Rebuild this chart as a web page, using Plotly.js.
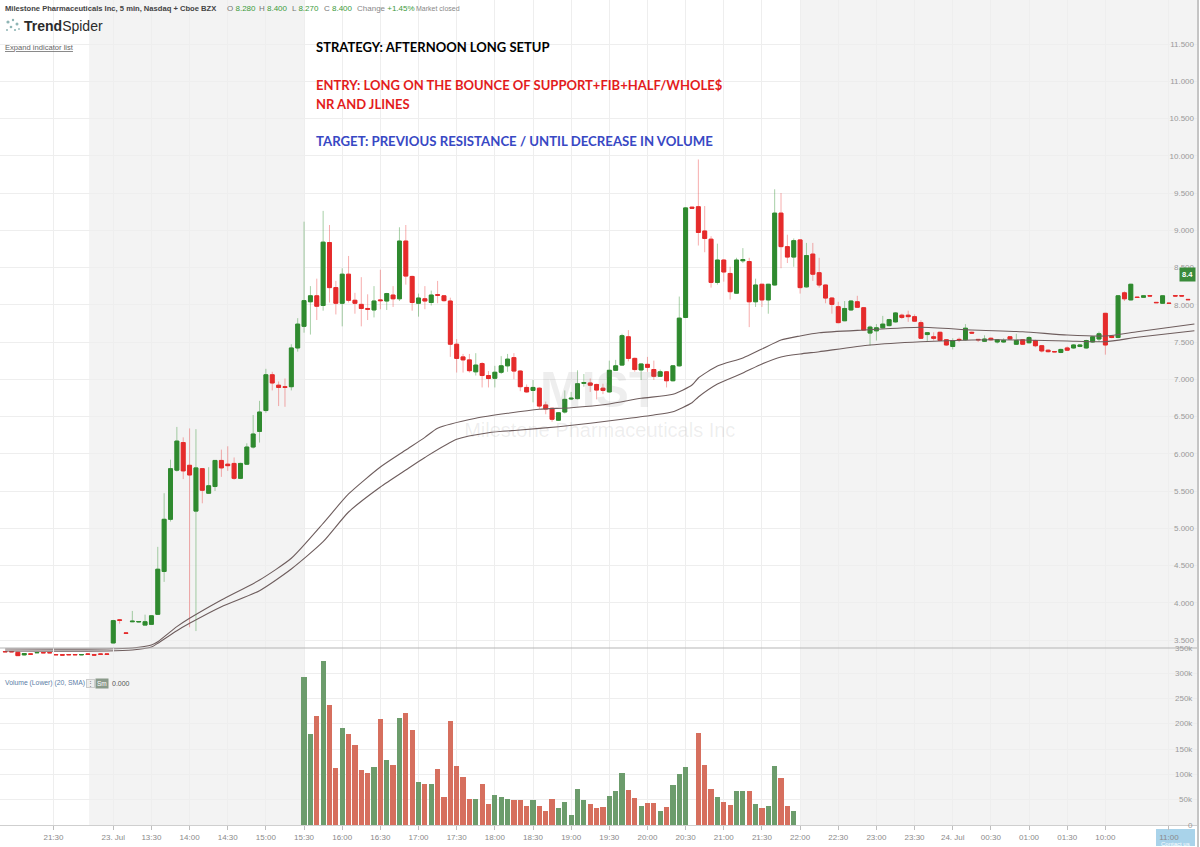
<!DOCTYPE html>
<html><head><meta charset="utf-8">
<script src="https://cdn.plot.ly/plotly-3.0.1.min.js"></script>
<style>html,body{margin:0;padding:0;background:#fff;}#chart{width:1200px;height:847px;}</style>
</head><body><div id="chart"></div>
<script>
// ---------------- DATA ----------------
const priceOpen = [3.345,3.345,3.335,3.30,3.313,3.328,3.332,3.332,3.305,3.302,3.305,3.305,3.30,3.312,3.302,3.312,3.312,
3.46,3.77,3.595,3.745,3.742,3.70,3.71,3.845,4.42,5.12,5.78,6.15,5.845,5.23,5.80,5.47,5.56,5.91,5.86,5.87,5.67,5.86,6.09,6.30,6.58,7.06,6.92,6.90,6.90,7.42,
7.71,8.04,8.12,7.99,8.835,8.23,8.02,8.41,8.06,8.005,7.95,7.93,8.065,8.05,8.13,8.08,8.855,8.38,8.02,8.08,8.03,8.135,8.12,8.05,7.47,7.30,7.26,7.10,
7.21,7.05,7.013,7.094,7.18,7.29,7.11,6.89,6.85,6.88,6.655,6.61,6.45,6.56,6.735,6.74,6.945,6.95,6.93,6.88,6.83,7.12,7.19,7.57,7.28,7.125,7.20,7.13,7.04,7.10,6.98,
7.18,7.83,9.31,9.316,8.99,8.88,8.30,8.60,8.42,8.155,8.59,8.58,8.04,8.275,8.065,8.265,9.23,8.78,8.64,8.87,8.24,8.68,8.43,8.265,8.09,7.974,7.785,7.93,8.04,
7.96,7.62,7.65,7.69,7.72,7.77,7.86,7.86,7.84,7.76,7.60,7.57,7.63,7.53,7.44,7.535,7.53,7.63,7.535,7.51,7.55,7.50,7.50,7.57,7.47,7.53,7.49,7.52,7.45,7.39,7.372,7.36,7.42,7.42,7.44,7.42,7.50,7.54,
7.885,7.58,7.56,8.16,8.065,8.102,8.10,8.122,8.032,8.02,8.022,8.122,8.122,8.072];
const priceHigh = [3.35,3.35,3.34,3.32,3.315,3.333,3.335,3.335,3.307,3.305,3.307,3.307,3.307,3.315,3.305,3.315,3.315,
3.77,3.78,3.60,3.89,3.75,3.84,3.83,4.75,5.47,5.92,6.36,6.22,6.34,6.33,5.80,5.82,5.91,6.055,6.10,5.95,5.88,6.14,6.52,6.71,7.14,7.10,6.97,7.01,7.47,7.82,
9.115,8.25,8.35,9.26,9.07,8.32,8.49,8.655,8.16,8.37,8.14,8.25,8.47,8.16,8.25,9.04,9.07,8.39,8.15,8.25,8.19,8.32,8.13,8.095,7.54,7.34,7.34,7.35,
7.23,7.11,7.18,7.31,7.34,7.35,7.12,6.93,6.99,6.89,6.70,6.62,6.56,6.85,6.83,7.12,7.07,7.01,6.94,6.94,7.25,7.26,7.61,7.66,7.29,7.21,7.30,7.25,7.13,7.11,7.19,
8.11,9.31,9.315,9.95,9.325,8.92,8.82,8.61,8.51,8.63,8.76,8.63,8.35,8.28,8.28,9.55,9.50,8.94,8.89,8.88,8.83,8.83,8.63,8.27,8.10,8.04,8.05,8.06,8.12,
7.97,7.72,7.74,7.85,7.81,7.90,7.88,7.92,7.87,7.79,7.63,7.63,7.64,7.54,7.55,7.56,7.74,7.64,7.54,7.59,7.56,7.54,7.55,7.58,7.61,7.54,7.58,7.53,7.46,7.40,7.375,7.41,7.44,7.47,7.47,7.53,7.58,7.64,
7.89,7.59,8.13,8.18,8.28,8.105,8.125,8.125,8.035,8.125,8.025,8.125,8.125,8.075];
const priceLow = [3.34,3.34,3.285,3.295,3.31,3.325,3.325,3.325,3.30,3.298,3.30,3.30,3.298,3.308,3.298,3.308,3.308,
3.46,3.72,3.585,3.74,3.74,3.70,3.705,3.84,4.28,5.09,5.76,5.66,3.67,3.62,5.335,5.46,5.50,5.69,5.77,5.65,5.66,5.85,6.07,6.15,6.55,6.85,6.64,6.63,6.85,7.37,
7.625,7.60,7.795,7.92,8.03,7.87,7.71,8.03,7.88,7.71,7.795,7.83,7.94,7.93,7.97,8.05,8.27,7.92,7.84,7.94,7.99,8.02,8.04,7.30,7.09,7.09,7.09,7.05,
6.89,6.89,6.89,7.07,7.10,7.0,6.84,6.82,6.69,6.60,6.53,6.43,6.44,6.54,6.72,6.73,6.90,6.83,6.73,6.80,6.82,7.11,7.18,7.24,7.10,6.99,7.10,6.99,7.03,6.89,6.97,
7.17,7.82,9.29,8.795,8.705,8.23,8.27,8.31,8.07,8.15,8.56,7.70,7.97,7.97,7.88,8.26,8.49,8.56,8.51,8.15,8.23,8.32,8.23,8.02,7.88,7.75,7.78,7.92,7.96,
7.65,7.45,7.52,7.68,7.71,7.76,7.81,7.77,7.77,7.54,7.50,7.52,7.51,7.45,7.40,7.50,7.52,7.61,7.50,7.50,7.52,7.48,7.49,7.53,7.46,7.46,7.48,7.43,7.36,7.36,7.365,7.35,7.38,7.41,7.43,7.41,7.49,7.50,
7.33,7.55,7.55,8.05,8.06,8.095,8.095,8.115,8.025,8.015,8.015,8.115,8.115,8.065];
const priceClose = [3.342,3.342,3.29,3.318,3.31,3.332,3.328,3.328,3.302,3.298,3.302,3.302,3.305,3.309,3.298,3.309,3.309,
3.76,3.765,3.59,3.752,3.748,3.745,3.825,4.45,5.12,5.80,6.17,5.77,5.715,5.81,5.51,5.57,5.91,5.81,5.84,5.67,5.87,6.09,6.265,6.56,7.06,6.95,6.89,6.89,7.42,7.74,
8.055,8.12,7.98,8.84,8.23,8.02,8.41,8.06,8.02,7.95,7.94,8.05,8.055,8.15,8.08,8.855,8.385,8.03,8.09,8.05,8.13,8.128,8.055,7.47,7.28,7.26,7.115,7.19,
7.05,7.01,7.094,7.18,7.27,7.11,6.90,6.83,6.89,6.64,6.60,6.463,6.55,6.73,6.745,6.94,6.955,6.92,6.855,6.85,7.12,7.18,7.585,7.28,7.13,7.205,7.16,7.04,7.10,6.98,7.18,
7.82,9.30,9.295,8.97,8.89,8.30,8.60,8.44,8.175,8.60,8.605,8.04,8.265,8.065,8.275,9.23,8.78,8.64,8.86,8.23,8.66,8.41,8.265,8.09,8.005,7.76,7.95,8.05,7.966,
7.66,7.70,7.69,7.74,7.80,7.89,7.83,7.84,7.78,7.55,7.625,7.55,7.52,7.46,7.52,7.53,7.685,7.62,7.53,7.54,7.53,7.53,7.52,7.54,7.52,7.47,7.56,7.45,7.38,7.37,7.368,7.40,7.39,7.46,7.46,7.52,7.57,7.61,
7.46,7.56,8.12,8.08,8.275,8.098,8.12,8.118,8.028,8.12,8.018,8.118,8.118,8.068];

// volume in thousands (regular-session bars; first bar = the 15:30 candle)
const volumeStart = 47;
const volumeK = [293,180,216,324,237,113,192,180,158,109,103,115,210,129,119,212,221,188,85,81,81,111,55,206,117,95,51,51,81,42,
59,55,51,49,49,38,49,38,28,51,34,46,20,71,49,42,34,36,57,67,103,69,53,38,44,44,28,36,79,101,115,0,182,119,71,55,46,40,67,67,67,42,34,38,117,93,38,28];

// moving-average band lines (candle index, price)
const upperIdx = [0,16,20,23,24,27,29,34,40,45,50,54,59,63,66,68,74,79,84,89,95,100,105,108,109,112,116,119,122,125,128,135,144,152,160,167,173,178,187];
const upperVal = [3.379,3.379,3.393,3.433,3.477,3.679,3.791,4.037,4.305,4.597,5.066,5.460,5.822,6.050,6.22,6.342,6.476,6.543,6.597,6.618,6.668,6.744,6.798,6.923,7.017,7.178,7.285,7.406,7.527,7.581,7.625,7.661,7.698,7.661,7.638,7.594,7.581,7.638,7.741];
const lowerIdx = [0,16,20,23,24,27,29,34,40,45,50,54,59,63,66,71,76,81,87,92,97,102,105,108,109,112,116,119,122,125,128,136,144,152,160,167,173,178,187];
const lowerVal = [3.352,3.352,3.366,3.406,3.456,3.625,3.724,3.947,4.162,4.453,4.819,5.218,5.554,5.782,5.95,6.194,6.283,6.319,6.363,6.409,6.463,6.520,6.565,6.685,6.762,6.936,7.084,7.205,7.299,7.339,7.370,7.460,7.504,7.527,7.527,7.513,7.504,7.563,7.652];

// x tick labels (candle index positions)
const xTickPos = [7.6,17,23,29,35,41,47,53,59,65,71,77,83,89,95,101,107,113,119,125,131,137,143,149,155,161,167,173,183];
const xTickText = ['21:30','23. Jul','13:30','14:00','14:30','15:00','15:30','16:00','16:30','17:00','17:30','18:00','18:30','19:00','19:30','20:00','20:30','21:00','21:30','22:00','22:30','23:00','23:30','24. Jul','00:30','01:00','01:30','10:00','11:00'];
const priceTicks = [3.5,4,4.5,5,5.5,6,6.5,7,7.5,8,8.5,9,9.5,10,10.5,11,11.5];
const volumeTicks = [0,50000,100000,150000,200000,250000,300000,350000];
const volumeTickText = ['0','50k','100k','150k','200k','250k','300k','350k'];
// extended-hours shaded spans (candle index)
const shadedSpans = [[13.2,47.1],[125,190]];
const lastPrice = 8.4;

// ---------------- LAYOUT HELPERS ----------------
const W=1200,H=847,ML=0,MR=3,MT=0,MB=22;
const PW=W-ML-MR, PH=H-MT-MB;
const px = v => (v-ML)/PW;
const py = v => 1-(v-MT)/PH;
const DIV = 648;          // panel divider (pixels)
const PRICE_BOTTOM = 662; // price panel runs a little past the divider
const PXPERUNIT = 74.5, PTOP = 12.0906;
const uiFont = "'Liberation Sans',Arial,sans-serif";
const bigFont = "Lato,'Open Sans',sans-serif";
const GREEN='#2f8a2f', RED='#e52b2b';

const idx = priceOpen.map((_,i)=>i);
const bodyHigh = priceOpen.map((o,i)=>Math.max(o,priceClose[i]));
const bodyLow = priceOpen.map((o,i)=>Math.min(o,priceClose[i]));

const wicks = {type:'candlestick',x:idx,open:priceOpen,high:priceHigh,low:priceLow,close:priceClose,
  xaxis:'x',yaxis:'y',whiskerwidth:0,hoverinfo:'skip',showlegend:false,
  increasing:{line:{color:'rgba(60,150,60,0.45)',width:1},fillcolor:'rgba(60,150,60,0.45)'},
  decreasing:{line:{color:'rgba(235,50,50,0.4)',width:1},fillcolor:'rgba(235,50,50,0.4)'}};
const bodies = {type:'candlestick',x:idx,open:priceOpen,high:bodyHigh,low:bodyLow,close:priceClose,
  xaxis:'x',yaxis:'y',whiskerwidth:0,hoverinfo:'skip',showlegend:false,
  increasing:{line:{color:GREEN,width:1},fillcolor:GREEN},
  decreasing:{line:{color:RED,width:1},fillcolor:RED}};
const bandLine = {color:'#6e5d5d',width:1.1,shape:'spline',smoothing:0.6};
const upper = {type:'scatter',mode:'lines',x:upperIdx,y:upperVal,line:bandLine,xaxis:'x',yaxis:'y',hoverinfo:'skip',showlegend:false};
const lower = {type:'scatter',mode:'lines',x:lowerIdx,y:lowerVal,line:bandLine,xaxis:'x',yaxis:'y',hoverinfo:'skip',showlegend:false};

const volX = volumeK.map((_,k)=>volumeStart+k);
const volY = volumeK.map(v=>v*1000);
const volC = volX.map(i=>priceClose[i]>=priceOpen[i]?'#6c9c6c':'#d66f5e');
const vol = {type:'bar',x:volX,y:volY,width:0.82,marker:{color:volC,line:{width:0}},xaxis:'x',yaxis:'y2',hoverinfo:'skip',showlegend:false};

const watermark = {type:'scatter',mode:'text',x:[93.5,93.5],y:[6.80,6.29],text:['<b>MIST</b>','Milestone Pharmaceuticals Inc'],
  textfont:{family:"'Liberation Sans',Arial,sans-serif",size:[50,20],color:'rgba(120,120,120,0.13)'},textposition:'middle center',xaxis:'x',yaxis:'y',hoverinfo:'skip',showlegend:false};

const shapes = [];
shadedSpans.forEach(s=>shapes.push({type:'rect',xref:'x',yref:'paper',x0:s[0],x1:s[1],y0:0,y1:1,fillcolor:'#f3f3f3',line:{width:0},layer:'below'}));
shapes.push({type:'line',xref:'paper',yref:'paper',x0:0,x1:1,y0:py(DIV),y1:py(DIV),line:{color:'#b5b5b5',width:1}});
shapes.push({type:'line',xref:'paper',yref:'paper',x0:px(1198),x1:px(1198),y0:py(847),y1:1,line:{color:'#8a8a8a',width:1}});
shapes.push({type:'rect',xref:'paper',yref:'paper',x0:px(1156),x1:px(1195),y0:py(846),y1:py(829),fillcolor:'#a9d3ea',line:{width:0},layer:'below'});
// logo dots
[[8,22,1.6],[13,20,1.2],[17,24,1.5],[11,27,1.3],[15,30,1.1],[7,30,1.0],[19,29,0.9]].forEach(d=>shapes.push({type:'circle',xref:'paper',yref:'paper',
  x0:px(d[0]-d[2]),x1:px(d[0]+d[2]),y0:py(d[1]+d[2]),y1:py(d[1]-d[2]),fillcolor:'#8fb5b5',line:{width:0}}));

function ann(text,x,y,o){return Object.assign({text:text,xref:'paper',yref:'paper',x:px(x),y:py(y),xanchor:'left',yanchor:'middle',showarrow:false,
  font:{family:uiFont,size:9,color:'#555'}},o||{});}
const G = s=>"<span style='color:#3d9b3d'>"+s+"</span>";
const annotations = [
  ann('<b>Milestone Pharmaceuticals Inc, 5 min, Nasdaq + Cboe BZX</b>',3,9,{font:{family:uiFont,size:7.6,color:'#444'}}),
  ann('O '+G('8.280'),225,9,{font:{family:uiFont,size:8,color:'#777'}}),
  ann('H '+G('8.400'),257,9,{font:{family:uiFont,size:8,color:'#777'}}),
  ann('L '+G('8.270'),290,9,{font:{family:uiFont,size:8,color:'#777'}}),
  ann('C '+G('8.400'),322,9,{font:{family:uiFont,size:8,color:'#777'}}),
  ann('Change '+G('+1.45%'),355,9,{font:{family:uiFont,size:8,color:'#888'}}),
  ann('Market closed',414,9,{font:{family:uiFont,size:7,color:'#888'}}),
  ann('<b>Trend</b>Spider',22,26,{font:{family:uiFont,size:14,color:'#2b2b2b'}}),
  ann('<span style="text-decoration:underline">Expand indicator list</span>',3,47,{font:{family:uiFont,size:7.6,color:'#666'}}),
  ann('<b>STRATEGY: AFTERNOON LONG SETUP</b>',314,47,{font:{family:bigFont,size:13,color:'#000'}}),
  ann('<b>ENTRY: LONG ON THE BOUNCE OF SUPPORT+FIB+HALF/WHOLE$</b>',314,85,{font:{family:bigFont,size:13,color:'#e31c1c'}}),
  ann('<b>NR AND JLINES</b>',314,104,{font:{family:bigFont,size:13,color:'#e31c1c'}}),
  ann('<b>TARGET: PREVIOUS RESISTANCE / UNTIL DECREASE IN VOLUME</b>',314,141,{font:{family:bigFont,size:13.2,color:'#3848c4'}}),
  ann('Volume (Lower) (20, SMA)',3,683,{font:{family:uiFont,size:6.8,color:'#5b7ea6'}}),
  ann('⋮',86,683,{font:{family:uiFont,size:7,color:'#777'},bgcolor:'#eeeeee',bordercolor:'#cccccc',borderwidth:1,borderpad:0}),
  ann('Sm',95,683,{font:{family:uiFont,size:6.5,color:'#ffffff'},bgcolor:'#8a9a8a',borderpad:1}),
  ann('0.000',110,683,{font:{family:uiFont,size:7,color:'#555'}}),
  ann('Contact us',1159,843.5,{font:{family:uiFont,size:6,color:'#ffffff'}}),
  {text:'<b>'+lastPrice.toFixed(1)+'</b>',xref:'paper',yref:'y',x:px(1196),y:lastPrice,xanchor:'right',yanchor:'middle',showarrow:false,
   bgcolor:'#3a8b3a',borderpad:2,font:{family:uiFont,size:7.5,color:'#fff'}}
];
volumeTicks.forEach((v,k)=>annotations.push({text:volumeTickText[k],xref:'paper',yref:'y2',x:px(1195),y:v,xanchor:'right',yanchor:'middle',
  showarrow:false,font:{family:uiFont,size:8,color:'#9a9a9a'}}));

const layout = {
  width:W,height:H,margin:{l:ML,r:MR,t:MT,b:MB,pad:0},paper_bgcolor:'#ffffff',plot_bgcolor:'rgba(0,0,0,0)',
  showlegend:false,boxgap:0.3,boxgroupgap:0.12,bargap:0,dragmode:false,
  xaxis:{range:[-0.81,187.41],tickmode:'array',tickvals:xTickPos,ticktext:xTickText,showgrid:true,gridcolor:'#eeeeee',gridwidth:1,
    zeroline:false,showline:true,linecolor:'#cfcfcf',ticks:'outside',ticklen:4,tickcolor:'#bdbdbd',anchor:'y2',
    tickfont:{family:uiFont,size:8,color:'#8a8a8a'},rangeslider:{visible:false},fixedrange:true},
  yaxis:{domain:[py(PRICE_BOTTOM),1],range:[PTOP-PRICE_BOTTOM/PXPERUNIT,PTOP],side:'right',tickmode:'array',tickvals:priceTicks,ticktext:priceTicks.map(v=>v.toFixed(3)),
    ticklabelposition:'inside',ticks:'',showgrid:true,gridcolor:'#eeeeee',zeroline:false,showline:false,
    tickfont:{family:uiFont,size:8,color:'#9a9a9a'},fixedrange:true},
  yaxis2:{domain:[0,py(DIV)],range:[0,350000],side:'right',tickmode:'array',tickvals:volumeTicks,showticklabels:false,
    ticks:'',showgrid:true,gridcolor:'#eeeeee',zeroline:false,showline:false,fixedrange:true},
  shapes:shapes,annotations:annotations
};
Plotly.newPlot('chart',[watermark,wicks,bodies,upper,lower,vol],layout,{displayModeBar:false,staticPlot:true});
</script></body></html>
